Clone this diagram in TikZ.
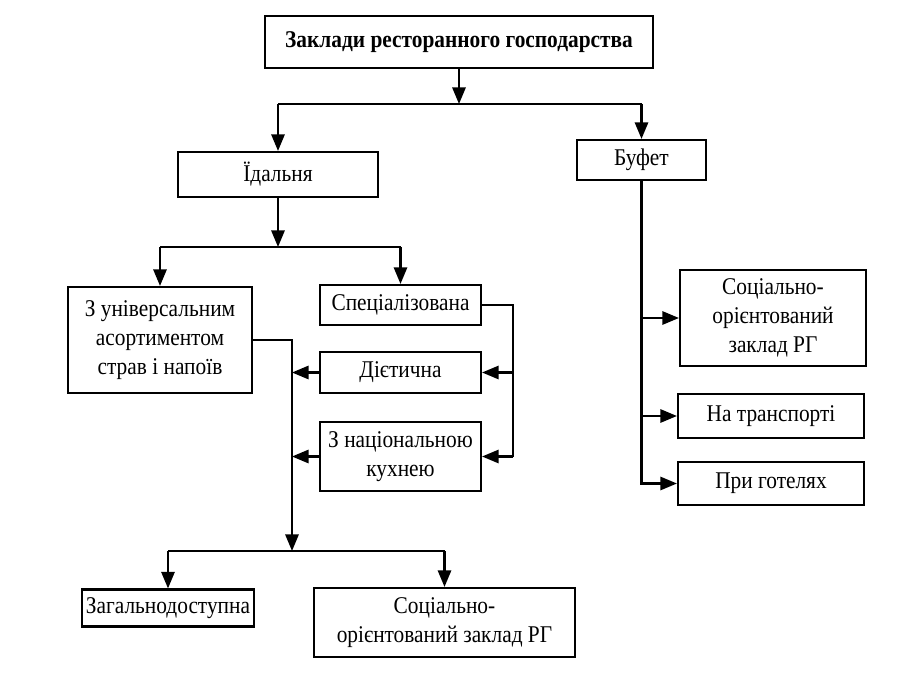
\documentclass[tikz,border=0pt]{standalone}
\usepackage{fontspec}
\setmainfont[FakeStretch=0.89]{Liberation Serif}
\usetikzlibrary{arrows.meta}
\begin{document}
\begin{tikzpicture}[x=0.75pt,y=-0.75pt,
  box/.style={draw,line width=1.6pt,rectangle,align=center,inner sep=0pt,
    font=\fontsize{18}{22}\selectfont},
  arr/.style={line width=1.6pt,-{Triangle[length=12.5pt,width=10pt]}},
  ln/.style={line width=1.6pt}]
\useasboundingbox (0,0) rectangle (919,677);
% nodes
\node[box,minimum width=388*0.75pt,minimum height=52*0.75pt,font=\fontsize{18}{22}\selectfont\bfseries] (top) at (459,42) {Заклади ресторанного господарства};
\node[box,minimum width=200*0.75pt,minimum height=45*0.75pt] (idal) at (278,174.5) {Їдальня};
\node[box,minimum width=129*0.75pt,minimum height=40*0.75pt] (bufet) at (641.5,160) {Буфет};
\node[box,minimum width=184*0.75pt,minimum height=106*0.75pt] (univ) at (160,340) {З універсальним\\асортиментом\\страв і напоїв};
\node[box,minimum width=161*0.75pt,minimum height=40*0.75pt] (spec) at (400.5,305) {Спеціалізована};
\node[box,minimum width=161*0.75pt,minimum height=41*0.75pt] (diet) at (400.5,372.5) {Дієтична};
\node[box,minimum width=161*0.75pt,minimum height=69*0.75pt] (nac) at (400.5,456.5) {З національною\\кухнею};
\node[box,minimum width=172*0.75pt,minimum height=37*0.75pt] (zag) at (168,608) {Загальнодоступна};
\node[box,minimum width=261*0.75pt,minimum height=69*0.75pt] (soc2) at (444.5,622.5) {Соціально-\\орієнтований заклад РГ};
\node[box,minimum width=186*0.75pt,minimum height=96*0.75pt] (soc1) at (773,318) {Соціально-\\орієнтований\\заклад РГ};
\node[box,minimum width=186*0.75pt,minimum height=44*0.75pt] (trans) at (771,416) {На транспорті};
\node[box,minimum width=186*0.75pt,minimum height=43*0.75pt] (hotel) at (771,483.5) {При готелях};
% junctions
\coordinate (j1) at (459,104);
\coordinate (j1l) at (278,104);
\coordinate (j1r) at (641.5,104);
\coordinate (j2) at (278,247);
\coordinate (j2l) at (160,247);
\coordinate (j2r) at (400.5,247);
\coordinate (j3) at (513,456.5);
\coordinate (j4) at (292,551);
\coordinate (j4l) at (168,551);
\coordinate (j4r) at (444.5,551);
% connectors
\draw[arr] (top.south) -- (j1);
\draw[ln] (j1l) -- (j1r);
\draw[arr] (j1l) -- (idal.north);
\draw[arr] (j1r) -- (bufet.north);
\draw[arr] (idal.south) -- (j2);
\draw[ln] (j2l) -- (j2r);
\draw[arr] (j2l) -- (univ.north);
\draw[arr] (j2r) -- (spec.north);
\draw[ln] (spec.east) -| (j3);
\draw[arr] (diet.east -| j3) -- (diet.east);
\draw[arr] (j3) -- (nac.east);
\draw[arr] (univ.east) -| (j4);
\draw[arr] (diet.west) -- (diet.west -| j4);
\draw[arr] (nac.west) -- (nac.west -| j4);
\draw[ln] (j4l) -- (j4r);
\draw[arr] (j4l) -- (zag.north);
\draw[arr] (j4r) -- (soc2.north);
\draw[arr] (bufet.south) |- (hotel.west);
\draw[arr] (bufet.south |- soc1.west) -- (soc1.west);
\draw[arr] (bufet.south |- trans.west) -- (trans.west);
\end{tikzpicture}
\end{document}
